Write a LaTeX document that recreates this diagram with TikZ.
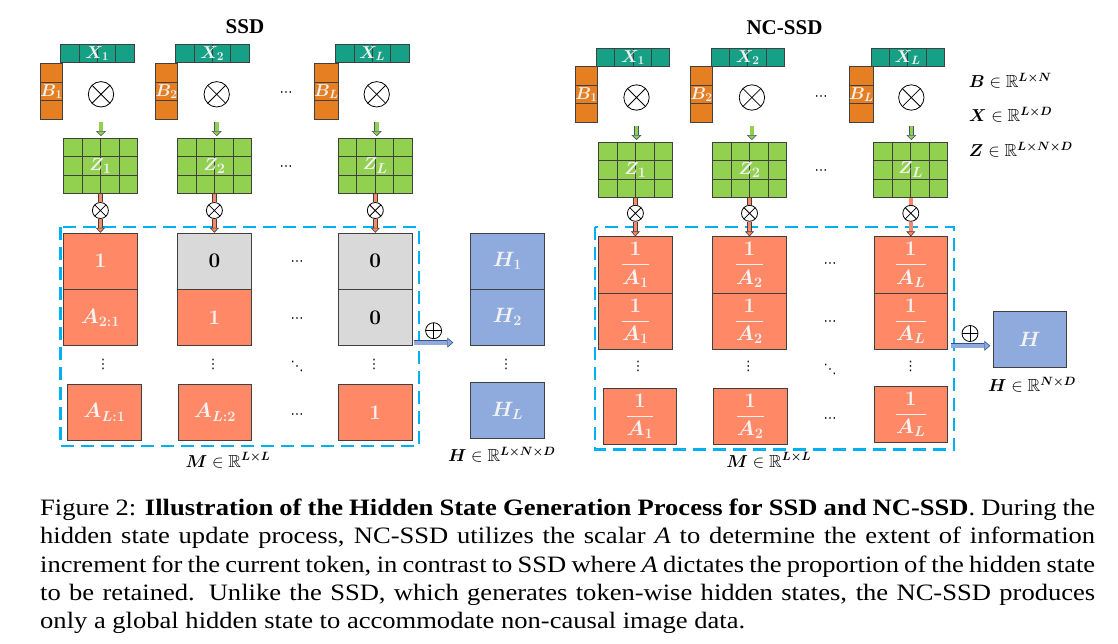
\documentclass[tikz,border=0pt]{standalone}
\usepackage{fontspec}
\setmainfont{Liberation Serif}
\newfontfamily\capfont{Liberation Serif}[FakeStretch=1.13]
\newfontfamily\dotfont{DejaVu Sans}
\usepackage{amsmath}
\usepackage{amssymb}
\usepackage{bm}
\usetikzlibrary{arrows.meta,calc}

\definecolor{xteal}{RGB}{22,160,133}
\definecolor{borange}{RGB}{230,126,34}
\definecolor{zgreen}{RGB}{146,208,80}
\definecolor{salmon}{RGB}{255,137,102}
\definecolor{zerogray}{RGB}{217,217,217}
\definecolor{hblue}{RGB}{143,170,220}
\definecolor{dashcyan}{RGB}{0,176,240}
\definecolor{edge}{RGB}{64,64,64}
\definecolor{offwhite}{RGB}{242,242,242}
\definecolor{arrowedge}{RGB}{68,84,106}
\definecolor{blueedge}{RGB}{47,82,143}

% cols x rows of cells inside a node (used in path picture)
\newcommand{\cellgrid}[2]{%
  \foreach \i in {0,...,#1}
    \draw[edge,line width=0.8pt] ($(path picture bounding box.north west)!\i/#1!(path picture bounding box.north east)$)
      -- ($(path picture bounding box.south west)!\i/#1!(path picture bounding box.south east)$);
  \foreach \j in {0,...,#2}
    \draw[edge,line width=0.8pt] ($(path picture bounding box.north west)!\j/#2!(path picture bounding box.south west)$)
      -- ($(path picture bounding box.north east)!\j/#2!(path picture bounding box.south east)$);}

\begin{document}
\begin{tikzpicture}[x=1pt,y=-1pt]
\tikzstyle{xbar}= [rectangle,draw=edge,line width=0.8pt,fill=xteal,minimum width=73.4pt,minimum height=18.4pt,inner sep=0pt,
  text=offwhite,font=\fontsize{17}{17}\selectfont,path picture={\cellgrid{4}{1}}]
\tikzstyle{bbar}= [rectangle,draw=edge,line width=0.8pt,fill=borange,minimum width=18.8pt,minimum height=55.5pt,inner sep=0pt,
  text=offwhite,font=\fontsize{17}{17}\selectfont,path picture={\cellgrid{1}{3}}]
\tikzstyle{zgrid}= [rectangle,draw=edge,line width=0.8pt,fill=zgreen,minimum width=74pt,minimum height=55.8pt,inner sep=0pt,
  text=offwhite,font=\fontsize{19}{19}\selectfont,path picture={\cellgrid{4}{3}}]
\tikzstyle{cell}= [rectangle,draw=edge,line width=0.8pt,fill=salmon,minimum width=73.5pt,minimum height=56.2pt,inner sep=0pt,
  text=offwhite,font=\fontsize{20}{20}\selectfont]
\tikzstyle{zero}= [cell,fill=zerogray,text=black]
\tikzstyle{hcell}= [cell,fill=hblue]
\tikzstyle{otimes}= [circle,draw,line width=0.8pt,minimum size=25.4pt,inner sep=0pt,
  path picture={\draw[line width=0.8pt] (path picture bounding box.north west) -- (path picture bounding box.south east)
    (path picture bounding box.south west) -- (path picture bounding box.north east);}]
\tikzstyle{sotimes}= [otimes,minimum size=16pt]
\tikzstyle{oplus}= [circle,draw,line width=0.8pt,minimum size=16pt,inner sep=0pt,
  path picture={\draw[line width=0.8pt] (path picture bounding box.north) -- (path picture bounding box.south)
    (path picture bounding box.west) -- (path picture bounding box.east);}]
\tikzstyle{down}= [draw=arrowedge,line width=0.6pt,double=zgreen,double distance=3.6pt,
  -{Triangle[length=5pt,width=10pt,fill=zgreen,line width=0.6pt]}]
\tikzstyle{stem}= [draw=edge,line width=0.6pt,double=salmon,double distance=3.4pt]
\tikzstyle{feed}= [stem,-{Triangle[length=5pt,width=9pt,fill=salmon,line width=0.6pt]}]
\tikzstyle{merge}= [draw=blueedge,line width=0.6pt,double=hblue,double distance=4pt,
  -{Triangle[length=6pt,width=10pt,fill=hblue,line width=0.6pt]}]
\tikzstyle{mbox}= [draw=dashcyan,line width=2.4pt,dash pattern=on 13pt off 7pt]
\tikzstyle{dots}= [inner sep=0pt,font=\dotfont\fontsize{13}{13}\selectfont]
\tikzstyle{title}= [inner sep=0pt,anchor=base,font=\fontsize{21}{21}\selectfont\bfseries]
\tikzstyle{dim}= [inner sep=0pt,font=\fontsize{17.5}{17.5}\selectfont]

\useasboundingbox (0,0) rectangle (1118,643);

% SSD
\path
	(245,33.3) node[title] (ssd) {SSD}
	( 97.3,53.5) node[xbar] (xs1) {$\bm{X_1}$}
	(212.3,53.5) node[xbar] (xs2) {$\bm{X_2}$}
	(372.3,53.5) node[xbar] (xsL) {$\bm{X_L}$}
	( 51.4,91.5) node[bbar] (bs1) {$\bm{B_1}$}
	(166.5,91.5) node[bbar] (bs2) {$\bm{B_2}$}
	(326.4,91.5) node[bbar] (bsL) {$\bm{B_L}$}
	(101.0,94.3) node[otimes] (os1) {}
	(216.7,94.3) node[otimes] (os2) {}
	(376.7,94.3) node[otimes] (osL) {}
	(286,94) node[dots] {⋯}
	(100.4,165.9) node[zgrid] (zs1) {$\bm{Z_1}$}
	(214.4,165.9) node[zgrid] (zs2) {$\bm{Z_2}$}
	(375.3,165.9) node[zgrid] (zsL) {$\bm{Z_L}$}
	(286,168) node[dots] {⋯}
	(100.4,210.5) node[sotimes] (ps1) {}
	(214.4,210.5) node[sotimes] (ps2) {}
	(375.3,210.5) node[sotimes] (psL) {}
	(100.4,261.3) node[cell] (ms11) {$\bm{1}$}
	(214.4,261.3) node[zero] (ms12) {$\bm{0}$}
	(375.3,261.3) node[zero] (ms1L) {$\bm{0}$}
	(100.4,317.5) node[cell] (ms21) {$\bm{A_{2:1}}$}
	(214.4,317.5) node[cell] (ms22) {$\bm{1}$}
	(375.3,317.5) node[zero] (ms2L) {$\bm{0}$}
	(104.5,412.4) node[cell] (msL1) {$\bm{A_{L:1}}$}
	(215.0,412.4) node[cell] (msL2) {$\bm{A_{L:2}}$}
	(375.3,412.4) node[cell] (msLL) {$\bm{1}$}
	(297,263) node[dots] {⋯}
	(297,320) node[dots] {⋯}
	(297,416) node[dots] {⋯}
	(103,364) node[dots] {⋮}
	(213,364) node[dots] {⋮}
	(374,364) node[dots] {⋮}
	(297,366) node[dots] {⋱}
	(507.4,261.3) node[hcell] (hs1) {$\bm{H_1}$}
	(507.4,317.2) node[hcell] (hs2) {$\bm{H_2}$}
	(507.4,410.5) node[hcell] (hsL) {$\bm{H_L}$}
	(506,364) node[dots] {⋮}
	(433.6,330.7) node[oplus] (adds) {}
	(228,467) node[dim,anchor=base] (mlabs) {$\bm{M}\in\mathbb{R}^{\bm{L\times L}}$}
	(501.8,461.7) node[dim,anchor=base] (hlabs) {$\bm{H}\in\mathbb{R}^{\bm{L\times N\times D}}$}
;
\draw[mbox] (60.3,226.7) rectangle (419,446);
\draw[down,shorten <=15pt,shorten >=1.5pt] (os1) -- (os1 |- zs1.north);
\draw[down,shorten <=15pt,shorten >=1.5pt] (os2) -- (os2 |- zs2.north);
\draw[down,shorten <=15pt,shorten >=1.5pt] (osL) -- (osL |- zsL.north);
\draw[stem] (zs1) -- (ps1);
\draw[stem] (zs2) -- (ps2);
\draw[stem] (zsL) -- (psL);
\draw[feed] (ps1) -- (ms11);
\draw[feed] (ps2) -- (ms12);
\draw[feed] (psL) -- (ms1L);
\draw[merge,shorten <=1.6pt,shorten >=17pt] ([yshift=3.4pt]ms2L.south east) -- ([yshift=3.4pt]ms2L.south east -| hs2.west);

% NC-SSD
\path
	(784.5,34.5) node[title] (ncssd) {NC-SSD}
	(633.0,57.5) node[xbar] (xn1) {$\bm{X_1}$}
	(747.7,57.5) node[xbar] (xn2) {$\bm{X_2}$}
	(907.7,57.5) node[xbar] (xnL) {$\bm{X_L}$}
	(586.5,94.5) node[bbar] (bn1) {$\bm{B_1}$}
	(701.5,94.5) node[bbar] (bn2) {$\bm{B_2}$}
	(861.5,94.5) node[bbar] (bnL) {$\bm{B_L}$}
	(636.5,97.5) node[otimes] (on1) {}
	(751.9,97.5) node[otimes] (on2) {}
	(911.3,97.5) node[otimes] (onL) {}
	(821,98) node[dots] {⋯}
	(635.4,169.8) node[zgrid] (zn1) {$\bm{Z_1}$}
	(749.5,169.8) node[zgrid] (zn2) {$\bm{Z_2}$}
	(910.8,169.8) node[zgrid] (znL) {$\bm{Z_L}$}
	(821,172) node[dots] {⋯}
	(635.4,213.3) node[sotimes] (pn1) {}
	(749.5,213.3) node[sotimes] (pn2) {}
	(910.8,213.3) node[sotimes] (pnL) {}
	(635.4,264.9) node[cell] (mn11) {$\dfrac{\bm{1}}{\bm{A_1}}$}
	(749.5,264.9) node[cell] (mn12) {$\dfrac{\bm{1}}{\bm{A_2}}$}
	(910.8,264.9) node[cell] (mn1L) {$\dfrac{\bm{1}}{\bm{A_L}}$}
	(635.4,321.1) node[cell] (mn21) {$\dfrac{\bm{1}}{\bm{A_1}}$}
	(749.5,321.1) node[cell] (mn22) {$\dfrac{\bm{1}}{\bm{A_2}}$}
	(910.8,321.1) node[cell] (mn2L) {$\dfrac{\bm{1}}{\bm{A_L}}$}
	(640.0,416.3) node[cell] (mnL1) {$\dfrac{\bm{1}}{\bm{A_1}}$}
	(750.2,416.3) node[cell] (mnL2) {$\dfrac{\bm{1}}{\bm{A_2}}$}
	(910.8,414.5) node[cell] (mnLL) {$\dfrac{\bm{1}}{\bm{A_L}}$}
	(830,265.5) node[dots] {⋯}
	(830,323.5) node[dots] {⋯}
	(830,420.5) node[dots] {⋯}
	(638,366.7) node[dots] {⋮}
	(748.4,366.7) node[dots] {⋮}
	(910.5,366.7) node[dots] {⋮}
	(830,369) node[dots] {⋱}
	(1029.7,339.2) node[hcell] (hn) {$\bm{H}$}
	(970,333.5) node[oplus] (addn) {}
	(768.7,467) node[dim,anchor=base] (mlabn) {$\bm{M}\in\mathbb{R}^{\bm{L\times L}}$}
	(1032,391.7) node[dim,anchor=base] (hlabn) {$\bm{H}\in\mathbb{R}^{\bm{N\times D}}$}
	(968.7,87.7) node[dim,anchor=base west] (bdim) {$\bm{B}\in\mathbb{R}^{\bm{L\times N}}$}
	(968.7,121.7) node[dim,anchor=base west] (xdim) {$\bm{X}\in\mathbb{R}^{\bm{L\times D}}$}
	(968.7,156.7) node[dim,anchor=base west] (zdim) {$\bm{Z}\in\mathbb{R}^{\bm{L\times N\times D}}$}
;
\draw[mbox] (595,227) rectangle (954,449.3);
\draw[down,shorten <=15pt,shorten >=1.5pt] (on1) -- (on1 |- zn1.north);
\draw[down,shorten <=15pt,shorten >=1.5pt] (on2) -- (on2 |- zn2.north);
\draw[down,shorten <=15pt,shorten >=1.5pt] (onL) -- (onL |- znL.north);
\draw[stem] (zn1) -- (pn1);
\draw[stem] (zn2) -- (pn2);
\draw[stem] (znL) -- (pnL);
\draw[feed] (pn1) -- (mn11);
\draw[feed] (pn2) -- (mn12);
\draw[feed] (pnL) -- (mn1L);
\draw[merge,shorten <=3.2pt,shorten >=2.3pt] ([yshift=3.8pt]mn2L.south east) -- ([yshift=3.8pt]mn2L.south east -| hn.west);

% caption
\node[anchor=north west,inner sep=0pt,text width=1055pt,align=justify,
  font=\capfont\fontsize{23.5}{28.4}\selectfont] (caption) at (40,498.5)
  {Figure 2: \textbf{Illustration of the Hidden State Generation Process for SSD and NC-SSD}. During the\linebreak
  hidden state update process, NC-SSD utilizes the scalar \textit{A} to determine the extent of information\linebreak
  increment for the current token, in contrast to SSD where \textit{A} dictates the proportion of the hidden state\linebreak
  to be retained. Unlike the SSD, which generates token-wise hidden states, the NC-SSD produces\linebreak
  only a global hidden state to accommodate non-causal image data.};
\end{tikzpicture}
\end{document}
